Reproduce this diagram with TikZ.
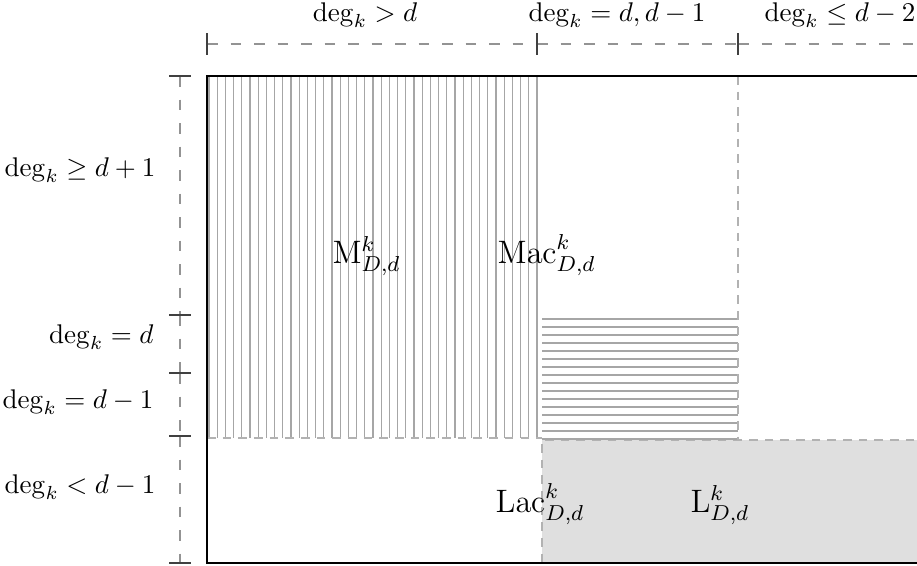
\documentclass[tikz,border=0pt]{standalone}
\begin{document}
\begin{tikzpicture}[x=0.37pt,y=-0.37pt,
  axis/.style={draw=gray!85, line width=0.7pt, dash pattern=on 4pt off 4.7pt},
  tickmark/.style={draw=black!75, line width=0.7pt},
  hatch/.style={draw=gray!70, line width=0.4pt},
  sep/.style={draw=gray!60, line width=0.6pt, dash pattern=on 3.2pt off 2.6pt},
  frame/.style={draw=black, line width=0.8pt},
  lab/.style={inner sep=0pt},
  big/.style={inner sep=0pt, font=\large}]
\useasboundingbox (0,0) rectangle (917,565);

% shaded region L
\fill[gray!25] (542,440) rectangle (930,563);
\draw[sep] (930,440) -- (542,440) -- (542,563);

% horizontal hatching
\foreach \i in {0,...,15}
  \draw[hatch] (542,319+8*\i) -- (738,319+8*\i);

% vertical hatching
\foreach \i in {0,...,40}
  \draw[hatch] (209+8.2*\i,76) -- (209+8.2*\i,438);

% separators
\draw[sep] (207,438) -- (542,438);
\draw[sep] (738,76) -- (738,440);

% main frame
\draw[frame] (930,76) -- (207,76) -- (207,563) -- (930,563);

% top axis
\coordinate (t0) at (207,44);
\coordinate (t1) at (537,44);
\coordinate (t2) at (738,44);
\coordinate (t3) at (930,44);
\draw[axis] (t0) -- (t1);
\draw[axis] (t1) -- (t2);
\draw[axis] (t2) -- (t3);
\foreach \c in {t0,t1,t2}
  \draw[tickmark] ([yshift=4pt]\c) -- ([yshift=-4pt]\c);

% left axis
\coordinate (l0) at (180,76);
\coordinate (l1) at (180,315);
\coordinate (l2) at (180,373);
\coordinate (l3) at (180,436);
\coordinate (l4) at (180,563);
\draw[axis] (l0) -- (l1);
\draw[axis] (l1) -- (l2);
\draw[axis] (l2) -- (l3);
\draw[axis] (l3) -- (l4);
\foreach \c in {l0,l1,l2,l3,l4}
  \draw[tickmark] ([xshift=-4pt]\c) -- ([xshift=4pt]\c);

% top labels
\node[lab, anchor=base] (a1) at (365,21) {$\deg_k > d$};
\node[lab, anchor=base] (a2) at (617,21) {$\deg_k = d, d-1$};
\node[lab, anchor=base] (a3) at (840,21) {$\deg_k \leq d-2$};

% left labels
\node[lab, anchor=base east] (b1) at (156,176) {$\deg_k \geq d+1$};
\node[lab, anchor=base east] (b2) at (154,343) {$\deg_k = d$};
\node[lab, anchor=base east] (b3) at (154,408) {$\deg_k = d-1$};
\node[lab, anchor=base east] (b4) at (156,493) {$\deg_k < d-1$};

% region labels
\node[big, anchor=base west] (m) at (332,263) {$\mathrm{M}^k_{D,d}$};
\node[big, anchor=base west] (mac) at (497,263) {$\mathrm{Mac}^k_{D,d}$};
\node[big, anchor=base west] (lac) at (495,512) {$\mathrm{Lac}^k_{D,d}$};
\node[big, anchor=base west] (l) at (690,512) {$\mathrm{L}^k_{D,d}$};
\end{tikzpicture}
\end{document}
